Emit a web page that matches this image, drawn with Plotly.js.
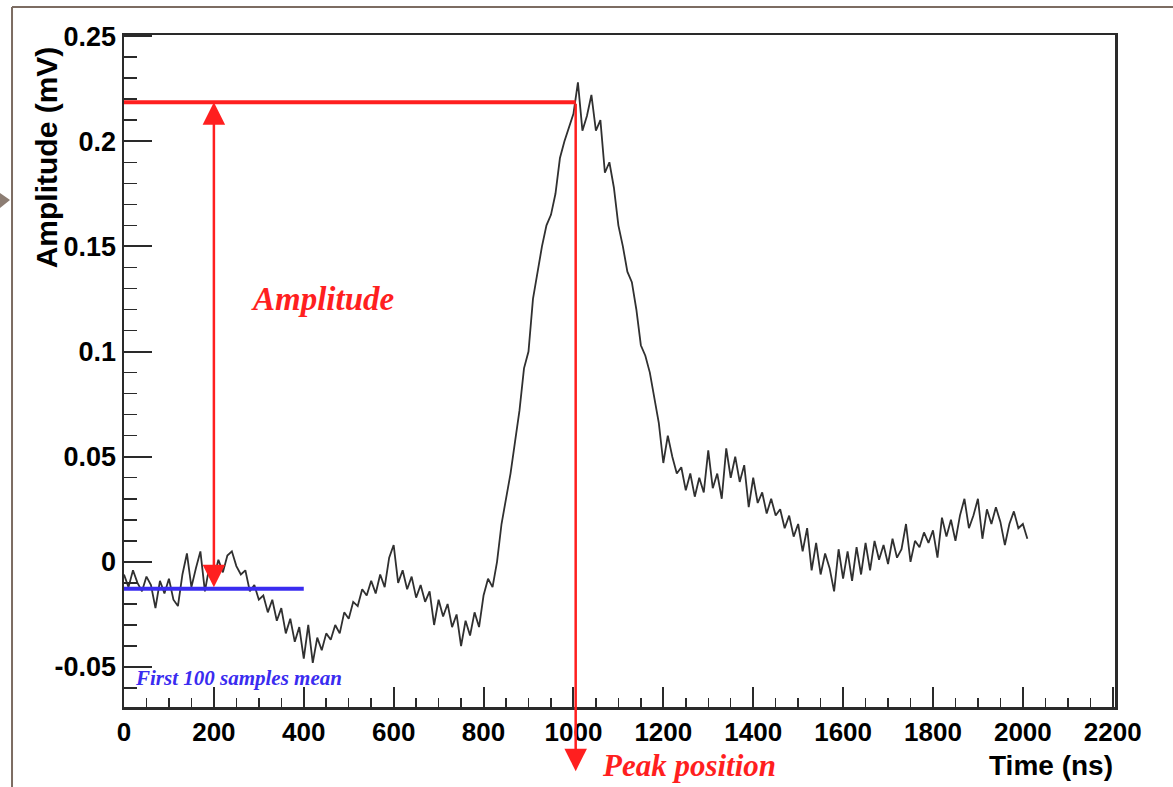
<!DOCTYPE html>
<html>
<head>
<meta charset="utf-8">
<script src="https://cdn.plot.ly/plotly-3.0.1.min.js"></script>
<style>
  html, body { margin: 0; padding: 0; background: #ffffff; }
  #chart { width: 1173px; height: 787px; }
</style>
</head>
<body>
<div id="chart"></div>
<script>
// ---- Data ----
// Sampling grid of the waveform: one sample every 10 ns, from 0 to 2010 ns
const sampleStepNs = 10;
// Amplitude (mV) of each sample
const amplitudeMv = [
  -0.006, -0.012, -0.004, -0.010, -0.014, -0.007, -0.011, -0.022, -0.009, -0.015,
  -0.008, -0.018, -0.021, -0.006,  0.004, -0.012, -0.003,  0.005, -0.014, -0.002,
  -0.008,  0.001, -0.005,  0.003,  0.005, -0.002, -0.006, -0.004, -0.014, -0.011,
  -0.018, -0.016, -0.024, -0.018, -0.028, -0.022, -0.034, -0.027, -0.038, -0.031,
  -0.046, -0.030, -0.048, -0.036, -0.042, -0.034, -0.037, -0.030, -0.034, -0.024,
  -0.027, -0.019, -0.021, -0.013, -0.016, -0.009, -0.015, -0.006, -0.012,  0.002,
   0.008, -0.010, -0.004, -0.013, -0.007, -0.017, -0.011, -0.019, -0.014, -0.030,
  -0.018, -0.026, -0.020, -0.031, -0.025, -0.040, -0.028, -0.035, -0.024, -0.031,
  -0.016, -0.008, -0.012,  0.000,  0.018,  0.030,  0.042,  0.057,  0.072,  0.092,
   0.100,  0.125,  0.138,  0.150,  0.160,  0.165,  0.175,  0.192,  0.200,  0.207,
   0.213,  0.228,  0.205,  0.212,  0.222,  0.205,  0.210,  0.185,  0.190,  0.178,
   0.160,  0.150,  0.138,  0.133,  0.120,  0.103,  0.098,  0.090,  0.078,  0.066,
   0.047,  0.060,  0.050,  0.042,  0.045,  0.034,  0.042,  0.031,  0.040,  0.033,
   0.053,  0.035,  0.042,  0.030,  0.054,  0.040,  0.050,  0.038,  0.046,  0.026,
   0.040,  0.028,  0.033,  0.023,  0.030,  0.022,  0.025,  0.016,  0.022,  0.012,
   0.018,  0.005,  0.016, -0.004,  0.009, -0.006,  0.004, -0.003, -0.014,  0.006,
  -0.008,  0.005, -0.009,  0.007, -0.006,  0.009, -0.004,  0.010,  0.001,  0.008,
  -0.001,  0.011,  0.002,  0.006,  0.018,  0.000,  0.010,  0.007,  0.014,  0.009,
   0.015,  0.002,  0.021,  0.012,  0.020,  0.010,  0.022,  0.030,  0.016,  0.022,
   0.030,  0.011,  0.025,  0.018,  0.026,  0.019,  0.008,  0.018,  0.024,  0.016,
   0.018,  0.011
];
const timeNs = amplitudeMv.map((_, i) => i * sampleStepNs);

// Annotation values
const baselineMv = -0.0128;        // first 100 samples mean
const baselineEndNs = 400;         // 100 samples x 4 ns
const peakAmplitudeMv = 0.2185;    // marked peak level
const peakTimeNs = 1005;           // marked peak position
const amplitudeArrowNs = 200;      // x of the amplitude arrow

// Tick labels
const xTickVals = [0, 200, 400, 600, 800, 1000, 1200, 1400, 1600, 1800, 2000, 2200];
const xTickText = ['0', '200', '400', '600', '800', '1000', '1200', '1400', '1600', '1800', '2000', '2200'];
const yTickVals = [-0.05, 0, 0.05, 0.1, 0.15, 0.2, 0.25];
const yTickText = ['-0.05', '0', '0.05', '0.1', '0.15', '0.2', '0.25'];

// ---- Styles ----
const RED = '#ff1f1f';
const BLUE = '#3a2cf0';
const AXIS = '#2a2a2a';
const SANS = 'Liberation Sans, Arial, sans-serif';
const serifBI = { family: 'Liberation Serif, Times New Roman, serif', style: 'italic', weight: 'bold' };
const BORDER = '#7c6c62';

const trace = {
  x: timeNs,
  y: amplitudeMv,
  type: 'scatter',
  mode: 'lines',
  line: { color: '#303030', width: 1.8 },
  hoverinfo: 'x+y',
  showlegend: false
};

const layout = {
  width: 1173,
  height: 787,
  margin: { l: 124, r: 58, t: 35, b: 80 },
  paper_bgcolor: '#ffffff',
  plot_bgcolor: '#ffffff',
  showlegend: false,
  xaxis: {
    range: [0, 2205],
    tickvals: xTickVals,
    ticktext: xTickText,
    ticks: 'inside',
    ticklen: 20,
    tickwidth: 2,
    tickcolor: AXIS,
    minor: { dtick: 50, tick0: 0, ticks: 'inside', ticklen: 9, tickwidth: 1.5, tickcolor: AXIS },
    showline: true,
    linecolor: AXIS,
    linewidth: 2.5,
    mirror: true,
    showgrid: false,
    zeroline: false,
    tickfont: { family: SANS, size: 26, color: '#000', weight: 'bold' }
  },
  yaxis: {
    range: [-0.069, 0.2505],
    tickvals: yTickVals,
    ticktext: yTickText,
    ticks: 'inside',
    ticklen: 28,
    tickwidth: 2,
    tickcolor: AXIS,
    minor: { dtick: 0.01, tick0: 0, ticks: 'inside', ticklen: 13, tickwidth: 1.5, tickcolor: AXIS },
    showline: true,
    linecolor: AXIS,
    linewidth: 2.5,
    mirror: true,
    showgrid: false,
    zeroline: false,
    tickfont: { family: SANS, size: 27, color: '#000', weight: 'bold' }
  },
  shapes: [
    // baseline (first 100 samples mean)
    { type: 'line', xref: 'x', yref: 'y', x0: 0, x1: baselineEndNs, y0: baselineMv, y1: baselineMv,
      line: { color: BLUE, width: 4 } },
    // peak level
    { type: 'line', xref: 'x', yref: 'y', x0: 0, x1: peakTimeNs, y0: peakAmplitudeMv, y1: peakAmplitudeMv,
      line: { color: RED, width: 4 } },
    // picture border decorations
    { type: 'line', xref: 'paper', yref: 'paper', x0: -0.113, x1: 1.06, y0: 1.0417, y1: 1.0417,
      line: { color: BORDER, width: 2 } },
    { type: 'line', xref: 'paper', yref: 'paper', x0: -0.113, x1: -0.113, y0: 1.0417, y1: -0.125,
      line: { color: BORDER, width: 2 } },
    { type: 'path', xref: 'paper', yref: 'paper', path: 'M -0.1251 0.7649 L -0.1150 0.7545 L -0.1251 0.7426 Z',
      fillcolor: '#8c7d73', line: { width: 0 } }
  ],
  annotations: [
    // double-headed amplitude arrow
    { x: amplitudeArrowNs, y: peakAmplitudeMv, ax: amplitudeArrowNs, ay: baselineMv,
      xref: 'x', yref: 'y', axref: 'x', ayref: 'y', text: '', showarrow: true,
      arrowside: 'end+start', arrowhead: 2, startarrowhead: 2, arrowsize: 1.8, startarrowsize: 1.8,
      arrowwidth: 2.5, arrowcolor: RED },
    // peak position arrow down below the axis
    { x: peakTimeNs, y: -0.0995, ax: peakTimeNs, ay: peakAmplitudeMv,
      xref: 'x', yref: 'y', axref: 'x', ayref: 'y', text: '', showarrow: true,
      arrowhead: 2, arrowsize: 1.8, arrowwidth: 2.5, arrowcolor: RED },
    { x: 278, y: 0.125, xref: 'x', yref: 'y', text: 'Amplitude', showarrow: false,
      xanchor: 'left', yanchor: 'middle', font: Object.assign({ size: 33, color: RED }, serifBI) },
    { x: 1060, y: -0.0875, xref: 'x', yref: 'paper', text: 'Peak position', showarrow: false,
      xanchor: 'left', yanchor: 'middle', font: Object.assign({ size: 31, color: RED }, serifBI) },
    { x: 20, y: -0.0552, xref: 'x', yref: 'y', text: 'First 100 samples mean', showarrow: false,
      xanchor: 'left', yanchor: 'middle', font: Object.assign({ size: 21, color: BLUE }, serifBI) },
    // axis titles
    { x: 1, y: -0.0875, xref: 'paper', yref: 'paper', text: 'Time (ns)', showarrow: false,
      xanchor: 'right', yanchor: 'middle',
      font: { family: SANS, size: 28, color: '#000', weight: 'bold' } },
    { x: -0.0787, y: 0.818, xref: 'paper', yref: 'paper', text: 'Amplitude (mV)', showarrow: false,
      textangle: -90, xanchor: 'center', yanchor: 'middle',
      font: { family: SANS, size: 30, color: '#000', weight: 'bold' } }
  ]
};

Plotly.newPlot('chart', [trace], layout, { displayModeBar: false, staticPlot: true });
</script>
</body>
</html>
